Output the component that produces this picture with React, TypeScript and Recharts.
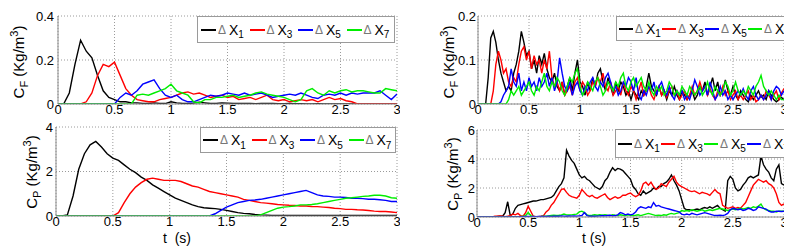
import React from "react";
import { LineChart, Line, XAxis, YAxis, CartesianGrid } from "recharts";

// sample times: left column every 0.05 s, right column every 0.025 s
const STEP_LEFT = 0.05;
const STEP_RIGHT = 0.025;
const T_TICKS = [0, 0.5, 1, 1.5, 2, 2.5, 3];

// ---- left column, C_F ----
const cfLeftX1 = [0, 0, 0.05, 0.18, 0.29, 0.24, 0.21, 0.13, 0.06, 0.03, 0.02, 0.01, 0.01, 0.005, 0.005, 0.003, 0.002, 0.005, 0.003, 0.002, 0.01, 0.005, 0.003, 0.002, 0.004, 0.008, 0.005, 0.002, 0.003, 0.005, 0.004, 0.003, 0.002, 0.003, 0.002, 0.001, 0.002, 0.003, 0.002, 0.001, 0.001, 0.002, 0.001, 0.001, 0, 0, 0.001, 0, 0, 0, 0, 0, 0, 0, 0, 0, 0, 0, 0, 0, 0];
const cfLeftX3 = [0, 0, 0, 0, 0, 0.01, 0.05, 0.13, 0.18, 0.17, 0.19, 0.13, 0.07, 0.04, 0.02, 0.015, 0.01, 0.01, 0.02, 0.025, 0.03, 0.04, 0.05, 0.055, 0.045, 0.05, 0.04, 0.03, 0.035, 0.04, 0.03, 0.035, 0.02, 0.025, 0.03, 0.02, 0.03, 0.04, 0.02, 0.015, 0.02, 0.01, 0.015, 0.02, 0.015, 0.02, 0.01, 0.02, 0.03, 0.02, 0.025, 0.015, 0.01, 0, 0, 0, 0, 0, 0, 0, 0];
const cfLeftX5 = [0, 0, 0, 0, 0, 0, 0, 0, 0, 0, 0, 0.03, 0.05, 0.04, 0.06, 0.09, 0.1, 0.11, 0.07, 0.04, 0.03, 0.04, 0.02, 0.01, 0.01, 0.02, 0.03, 0.04, 0.035, 0.04, 0.05, 0.045, 0.04, 0.05, 0.04, 0.045, 0.05, 0.04, 0.03, 0.035, 0.04, 0.045, 0.04, 0.05, 0.04, 0.03, 0.025, 0.04, 0.045, 0.04, 0.05, 0.04, 0.05, 0.045, 0.05, 0.05, 0.05, 0.06, 0.04, 0.02, 0.045];
const cfLeftX7 = [0, 0, 0, 0, 0, 0, 0, 0, 0, 0, 0, 0, 0, 0, 0.04, 0.045, 0.04, 0.05, 0.06, 0.07, 0.09, 0.06, 0.05, 0.04, 0.01, 0.005, 0.02, 0.02, 0.03, 0.03, 0.035, 0.04, 0.03, 0.035, 0.04, 0.05, 0.055, 0.045, 0.04, 0.035, 0.03, 0.02, 0.01, 0.02, 0.06, 0.07, 0.05, 0.04, 0.06, 0.05, 0.06, 0.065, 0.055, 0.06, 0.06, 0.055, 0.05, 0.05, 0.07, 0.065, 0.06];

// ---- left column, C_P ----
const cpLeftX1 = [0, 0, 0.05, 0.9, 2.1, 2.8, 3.2, 3.35, 3.1, 2.8, 2.6, 2.5, 2.3, 2.1, 1.95, 1.75, 1.6, 1.4, 1.25, 1.1, 0.95, 0.8, 0.7, 0.6, 0.5, 0.42, 0.37, 0.35, 0.33, 0.3, 0.25, 0.2, 0.15, 0.12, 0.1, 0.07, 0.05, 0.04, 0.03, 0.03, 0.02, 0.02, 0.02, 0.02, 0.02, 0.02, 0.02, 0.02, 0.02, 0.02, 0.02, 0.02, 0.02, 0.02, 0.02, 0.02, 0.02, 0.02, 0.02, 0.02, 0.02];
const cpLeftX3 = [0, 0, 0, 0, 0, 0, 0, 0, 0, 0, 0, 0.15, 0.6, 1.0, 1.3, 1.5, 1.65, 1.7, 1.65, 1.6, 1.6, 1.6, 1.55, 1.45, 1.35, 1.3, 1.2, 1.1, 1.05, 1.0, 0.95, 0.9, 0.85, 0.75, 0.7, 0.65, 0.6, 0.58, 0.55, 0.52, 0.5, 0.48, 0.47, 0.45, 0.45, 0.43, 0.42, 0.4, 0.38, 0.35, 0.33, 0.3, 0.3, 0.28, 0.27, 0.25, 0.22, 0.2, 0.2, 0.18, 0.15];
const cpLeftX5 = [0, 0, 0, 0, 0, 0, 0, 0, 0, 0, 0, 0, 0, 0, 0, 0, 0, 0, 0, 0, 0, 0, 0, 0, 0, 0, 0, 0, 0.1, 0.25, 0.4, 0.5, 0.6, 0.65, 0.7, 0.72, 0.75, 0.8, 0.85, 0.9, 0.95, 1.0, 1.05, 1.1, 1.15, 1.05, 0.95, 0.9, 0.88, 0.85, 0.85, 0.83, 0.8, 0.8, 0.78, 0.75, 0.75, 0.73, 0.7, 0.65, 0.65];
const cpLeftX7 = [0, 0, 0, 0, 0, 0, 0, 0, 0, 0, 0, 0, 0, 0, 0, 0, 0, 0, 0, 0, 0, 0, 0, 0, 0, 0, 0, 0, 0, 0, 0, 0, 0, 0, 0, 0, 0.05, 0.15, 0.25, 0.35, 0.4, 0.42, 0.45, 0.5, 0.5, 0.52, 0.55, 0.6, 0.65, 0.7, 0.75, 0.8, 0.82, 0.85, 0.88, 0.9, 0.93, 0.93, 0.9, 0.82, 0.8];

// ---- right column, C_F ----
const cfRightX1 = [0, 0, 0, 0, 0.06, 0.15, 0.165, 0.14, 0.1, 0.07, 0.05, 0.03, 0.04, 0.03, 0.07, 0.09, 0.12, 0.165, 0.14, 0.11, 0.12, 0.08, 0.1, 0.07, 0.11, 0.09, 0.115, 0.08, 0.06, 0.05, 0.07, 0.04, 0.03, 0.05, 0.02, 0.04, 0.06, 0.03, 0.07, 0.1, 0.05, 0.04, 0.02, 0.05, 0.03, 0.06, 0.04, 0.07, 0.08, 0.05, 0.03, 0.06, 0.04, 0.02, 0.05, 0.03, 0.05, 0.04, 0.02, 0.03, 0.01, 0.03, 0.02, 0.01, 0.03, 0.02, 0.04, 0.07, 0.04, 0.03, 0.02, 0.04, 0.02, 0.03, 0.01, 0.03, 0.02, 0.04, 0.02, 0.01, 0.03, 0.02, 0.01, 0.02, 0.03, 0.01, 0.02, 0.04, 0.03, 0.05, 0.02, 0.04, 0.06, 0.03, 0.05, 0.02, 0.03, 0.055, 0.03, 0.02, 0.04, 0.02, 0.01, 0.03, 0.02, 0.01, 0.005, 0.02, 0.01, 0.02, 0.03, 0.015, 0.02, 0.01, 0.03, 0.02, 0.01, 0.005, 0.01, 0.015, 0.01];
const cfRightX3 = [0, 0, 0, 0, 0, 0, 0.03, 0.09, 0.12, 0.1, 0.07, 0.08, 0.05, 0.04, 0.06, 0.05, 0.09, 0.12, 0.13, 0.1, 0.12, 0.08, 0.11, 0.09, 0.1, 0.07, 0.1, 0.08, 0.12, 0.06, 0.04, 0.05, 0.03, 0.05, 0.02, 0.03, 0.04, 0.02, 0.05, 0.06, 0.03, 0.05, 0.04, 0.02, 0.03, 0.05, 0.04, 0.06, 0.05, 0.07, 0.04, 0.03, 0.05, 0.02, 0.03, 0.04, 0.02, 0.05, 0.03, 0.02, 0.04, 0.03, 0.01, 0.03, 0.05, 0.02, 0.03, 0.04, 0.02, 0.01, 0.03, 0.04, 0.02, 0.03, 0.015, 0.03, 0.04, 0.02, 0.03, 0.01, 0.02, 0.03, 0.01, 0.02, 0.04, 0.02, 0.03, 0.05, 0.03, 0.04, 0.02, 0.035, 0.02, 0.01, 0.03, 0.02, 0.04, 0.02, 0.03, 0.01, 0.02, 0.03, 0.01, 0.02, 0.01, 0.02, 0.03, 0.01, 0.02, 0.005, 0.01, 0.02, 0.01, 0.03, 0.02, 0.01, 0.02, 0.03, 0.01, 0.025, 0.035];
const cfRightX5 = [0, 0, 0, 0, 0, 0, 0, 0, 0, 0.005, 0.02, 0.03, 0.04, 0.08, 0.05, 0.04, 0.07, 0.03, 0.05, 0.03, 0.06, 0.04, 0.05, 0.03, 0.06, 0.04, 0.05, 0.07, 0.04, 0.06, 0.03, 0.05, 0.105, 0.07, 0.04, 0.03, 0.05, 0.02, 0.04, 0.05, 0.03, 0.02, 0.04, 0.03, 0.05, 0.06, 0.04, 0.03, 0.05, 0.04, 0.06, 0.07, 0.05, 0.03, 0.04, 0.02, 0.03, 0.05, 0.04, 0.06, 0.05, 0.03, 0.06, 0.02, 0.01, 0.03, 0.02, 0.04, 0.03, 0.05, 0.02, 0.04, 0.05, 0.03, 0.02, 0.04, 0.02, 0.01, 0.03, 0.02, 0.03, 0.01, 0.02, 0.01, 0.03, 0.055, 0.04, 0.02, 0.03, 0.04, 0.02, 0.05, 0.03, 0.01, 0.02, 0.04, 0.02, 0.03, 0.01, 0.02, 0.01, 0.02, 0.03, 0.02, 0.035, 0.02, 0.01, 0.03, 0.04, 0.02, 0.01, 0.02, 0.01, 0.02, 0.03, 0.01, 0.03, 0.04, 0.035, 0.02, 0.03];
const cfRightX7 = [0, 0, 0, 0, 0, 0, 0, 0, 0, 0, 0, 0, 0.01, 0.03, 0.02, 0.03, 0.04, 0.02, 0.03, 0.04, 0.05, 0.03, 0.02, 0.04, 0.03, 0.05, 0.07, 0.04, 0.03, 0.05, 0.04, 0.06, 0.05, 0.03, 0.02, 0.04, 0.06, 0.05, 0.07, 0.08, 0.04, 0.02, 0.03, 0.05, 0.04, 0.03, 0.05, 0.06, 0.04, 0.02, 0.03, 0.05, 0.04, 0.03, 0.05, 0.04, 0.06, 0.07, 0.04, 0.03, 0.05, 0.06, 0.04, 0.05, 0.06, 0.04, 0.03, 0.05, 0.03, 0.02, 0.04, 0.03, 0.04, 0.02, 0.03, 0.05, 0.04, 0.02, 0.03, 0.02, 0.04, 0.03, 0.02, 0.04, 0.03, 0.02, 0.03, 0.04, 0.02, 0.03, 0.05, 0.03, 0.02, 0.04, 0.03, 0.02, 0.03, 0.05, 0.04, 0.02, 0.03, 0.05, 0.03, 0.02, 0.03, 0.02, 0.04, 0.03, 0.02, 0.04, 0.05, 0.065, 0.04, 0.03, 0.02, 0.03, 0.02, 0.01, 0.02, 0.01, 0.01];

// ---- right column, C_P (here X5 is green and X7 is blue) ----
const cpRightX1 = [0, 0, 0, 0, 0, 0, 0, 0, 0.03, 0.05, 0.05, 0.3, 1.05, 0.1, 0.2, 0.6, 0.8, 0.85, 0.9, 0.95, 1.0, 1.05, 1.1, 1.1, 1.15, 1.2, 1.2, 1.25, 1.3, 1.35, 1.5, 1.8, 2.1, 2.3, 2.7, 4.6, 4.2, 3.9, 3.7, 3.3, 2.9, 2.7, 2.8, 2.6, 2.5, 2.3, 2.1, 2.0, 1.9, 2.1, 2.5, 2.7, 3.1, 3.4, 3.2, 3.35, 3.3, 3.2, 3.0, 2.8, 2.6, 2.1, 1.9, 1.6, 1.5, 1.8, 1.6, 1.7, 1.8, 2.0, 1.9, 2.1, 2.1, 2.3, 2.4, 2.6, 2.9, 2.5, 2.2, 1.8, 1.2, 0.6, 0.5, 0.5, 0.45, 0.5, 0.55, 0.5, 0.6, 0.65, 0.6, 0.7, 0.6, 0.7, 0.8, 0.6, 0.5, 0.4, 2.5, 2.8, 2.6, 2.0, 1.8, 1.9, 2.2, 2.4, 2.7, 2.8, 2.7, 2.8, 2.9, 4.2, 3.6, 3.3, 3.1, 2.7, 2.5, 3.3, 3.6, 2.3, 2.2];
const cpRightX3 = [0, 0, 0, 0, 0, 0, 0, 0.05, 0.05, 0.08, 0.05, 0.02, 0.05, 0.1, 0.2, 0.15, 0.25, 0.1, 0.05, 0.3, 0.75, 0.4, 0.05, 0.02, 0.02, 0.05, 0.1, 0.35, 0.5, 0.8, 1.0, 1.3, 1.6, 1.9, 1.95, 1.7, 1.5, 1.4, 1.35, 1.3, 1.5, 1.9, 1.7, 1.5, 1.4, 1.5, 1.35, 1.3, 1.4, 1.5, 1.6, 1.35, 1.2, 1.3, 1.4, 1.3, 1.35, 1.5, 1.5, 1.6, 1.65, 1.5, 1.4, 1.5, 1.8, 2.3, 2.4, 2.2, 2.4, 2.1, 1.9, 2.0, 2.3, 2.2, 2.1, 2.4, 2.6, 2.8, 2.4, 2.2, 2.1, 2.0, 1.9, 1.8, 1.75, 1.8, 1.7, 1.6, 1.7, 1.65, 1.6, 1.5, 1.7, 1.9, 1.7, 1.6, 0.8, 0.7, 0.6, 0.65, 0.7, 0.6, 0.65, 0.6, 0.8, 1.0, 1.4, 1.8, 2.2, 2.4, 2.6, 2.5, 2.4, 2.5, 2.3, 2.2, 2.0, 1.6, 1.0, 0.8, 0.9];
const cpRightX5 = [0, 0, 0, 0, 0, 0, 0, 0, 0, 0, 0, 0, 0.01, 0.01, 0.02, 0.02, 0.02, 0.03, 0.05, 0.1, 0.3, 0.1, 0.03, 0.02, 0.02, 0.03, 0.05, 0.05, 0.08, 0.1, 0.12, 0.1, 0.12, 0.15, 0.2, 0.15, 0.15, 0.15, 0.18, 0.2, 0.35, 0.4, 0.3, 0.15, 0.1, 0.12, 0.15, 0.12, 0.15, 0.13, 0.15, 0.12, 0.1, 0.15, 0.12, 0.1, 0.15, 0.12, 0.1, 0.15, 0.12, 0.1, 0.12, 0.15, 0.1, 0.15, 0.2, 0.25, 0.2, 0.15, 0.1, 0.12, 0.1, 0.15, 0.12, 0.2, 0.25, 0.2, 0.25, 0.3, 0.45, 0.4, 0.45, 0.4, 0.5, 0.45, 0.4, 0.45, 0.5, 0.4, 0.45, 0.5, 0.45, 0.5, 0.55, 0.6, 0.55, 0.5, 0.45, 0.5, 0.55, 0.5, 0.55, 0.6, 0.55, 0.6, 0.65, 0.6, 0.7, 0.65, 0.75, 0.9, 0.6, 0.5, 0.45, 0.4, 0.4, 0.35, 0.4, 0.4, 0.4];
const cpRightX7 = [0, 0, 0, 0, 0, 0, 0, 0, 0, 0, 0, 0, 0, 0, 0, 0, 0, 0.02, 0.02, 0.03, 0.03, 0.02, 0.03, 0.02, 0.03, 0.03, 0.04, 0.03, 0.05, 0.04, 0.05, 0.06, 0.05, 0.08, 0.06, 0.05, 0.07, 0.06, 0.08, 0.06, 0.08, 0.1, 0.3, 0.1, 0.05, 0.06, 0.05, 0.06, 0.08, 0.1, 0.08, 0.1, 0.12, 0.08, 0.1, 0.15, 0.3, 0.25, 0.15, 0.2, 0.15, 0.2, 0.35, 0.6, 0.7, 0.65, 0.6, 0.7, 0.65, 1.0, 0.75, 0.8, 0.7, 0.65, 0.6, 0.55, 0.5, 0.45, 0.4, 0.35, 0.2, 0.15, 0.2, 0.15, 0.25, 0.2, 0.15, 0.2, 0.25, 0.3, 0.25, 0.2, 0.15, 0.1, 0.1, 0.12, 0.1, 0.15, 0.25, 0.5, 0.6, 0.55, 0.5, 0.55, 0.45, 0.5, 0.6, 0.55, 0.45, 0.5, 0.7, 0.65, 0.6, 0.55, 0.4, 0.35, 0.35, 0.4, 0.4, 0.38, 0.4];

const BLACK = "#000000";
const RED = "#ff0000";
const BLUE = "#0000ff";
const GREEN = "#00ee00";
const AXIS = "#8c8c8c";
const FONT = "'Liberation Sans', Arial, sans-serif";

type Item = { sub: string; color: string };

const legendLeft: Item[] = [
  { sub: "1", color: BLACK },
  { sub: "3", color: RED },
  { sub: "5", color: BLUE },
  { sub: "7", color: GREEN },
];
const legendRightCp: Item[] = [
  { sub: "1", color: BLACK },
  { sub: "3", color: RED },
  { sub: "5", color: GREEN },
  { sub: "7", color: BLUE },
];

function buildRows(step: number, series: number[][]) {
  return series[0].map((_, i) => {
    const row: Record<string, number> = { t: Math.round(i * step * 1000) / 1000 };
    series.forEach((s, k) => {
      row["s" + k] = s[i];
    });
    return row;
  });
}

type PanelProps = {
  left: number;
  top: number;
  width: number;
  height: number;
  mt: number;
  mr: number;
  yw: number;
  xh: number;
  yMax: number;
  yTicks: number[];
  yTickGap: number;
  rows: Record<string, number>[];
  colors: string[];
};

function Panel(p: PanelProps) {
  return (
    <div style={{ position: "absolute", left: p.left, top: p.top }}>
      <LineChart width={p.width} height={p.height} data={p.rows} margin={{ top: p.mt, right: p.mr, bottom: 0, left: 0 }}>
        <CartesianGrid stroke="#9a9a9a" strokeDasharray="1 2" />
        <XAxis
          dataKey="t"
          type="number"
          domain={[0, 3]}
          ticks={T_TICKS}
          interval={0}
          height={p.xh}
          tickSize={0}
          tickMargin={1}
          tickLine={false}
          axisLine={{ stroke: AXIS }}
          tick={{ fill: "#000", fontSize: 13, fontFamily: FONT }}
          allowDataOverflow
        />
        <XAxis xAxisId="top" orientation="top" dataKey="t" type="number" domain={[0, 3]} height={0} tick={false} tickLine={false} axisLine={{ stroke: AXIS }} />
        <YAxis
          type="number"
          domain={[0, p.yMax]}
          ticks={p.yTicks}
          interval={0}
          width={p.yw}
          tickSize={0}
          tickMargin={p.yTickGap}
          tickLine={false}
          axisLine={{ stroke: AXIS }}
          tick={{ fill: "#000", fontSize: 13, fontFamily: FONT }}
          allowDataOverflow
        />
        <YAxis yAxisId="right" orientation="right" type="number" domain={[0, p.yMax]} width={0} tick={false} tickLine={false} axisLine={{ stroke: AXIS }} />
        {p.colors.map((c, k) => (
          <Line key={k} dataKey={"s" + k} stroke={c} strokeWidth={1.4} dot={false} type="linear" isAnimationActive={false} />
        ))}
      </LineChart>
    </div>
  );
}

function LegendBox(props: { left: number; top: number; width: number; height: number; pad: number; pitch: number; lineW: number; items: Item[] }) {
  return (
    <div
      style={{
        position: "absolute",
        left: props.left,
        top: props.top,
        width: props.width,
        height: props.height,
        boxSizing: "border-box",
        border: "1px solid #9a9a9a",
        background: "#fff",
        display: "flex",
        alignItems: "center",
        paddingLeft: props.pad,
        fontFamily: FONT,
        fontSize: 14,
        whiteSpace: "nowrap",
      }}
    >
      {props.items.map((it) => (
        <div key={it.sub} style={{ width: props.pitch, flex: "none", display: "flex", alignItems: "center" }}>
          <span style={{ display: "inline-block", width: props.lineW, height: 2, background: it.color }} />
          <span style={{ color: "#777", fontSize: 12, marginLeft: 2, marginRight: 3 }}>Δ</span>
          <span>X</span>
          <span style={{ fontSize: 10, position: "relative", top: 5 }}>{it.sub}</span>
        </div>
      ))}
    </div>
  );
}

function YLabel(props: { cx: number; cy: number; sub: string }) {
  return (
    <div
      style={{
        position: "absolute",
        left: props.cx,
        top: props.cy,
        transform: "translate(-50%, -50%) rotate(-90deg)",
        fontFamily: FONT,
        fontSize: 15,
        lineHeight: 1,
        whiteSpace: "nowrap",
      }}
    >
      C<span style={{ fontSize: 11, position: "relative", top: 4 }}>{props.sub}</span> (Kg/m
      <span style={{ fontSize: 11, position: "relative", top: -6 }}>3</span>)
    </div>
  );
}

function XLabel(props: { left: number; top: number; text: string }) {
  return (
    <div style={{ position: "absolute", left: props.left, top: props.top, fontFamily: FONT, fontSize: 14, whiteSpace: "pre", lineHeight: 1 }}>
      {props.text}
    </div>
  );
}

export default function App() {
  const leftColors = [BLACK, RED, BLUE, GREEN];
  const rightCpColors = [BLACK, RED, GREEN, BLUE];
  const cfLeftRows = buildRows(STEP_LEFT, [cfLeftX1, cfLeftX3, cfLeftX5, cfLeftX7]);
  const cpLeftRows = buildRows(STEP_LEFT, [cpLeftX1, cpLeftX3, cpLeftX5, cpLeftX7]);
  const cfRightRows = buildRows(STEP_RIGHT, [cfRightX1, cfRightX3, cfRightX5, cfRightX7]);
  const cpRightRows = buildRows(STEP_RIGHT, [cpRightX1, cpRightX3, cpRightX5, cpRightX7]);

  return (
    <div style={{ position: "absolute", left: 0, top: 0, width: 794, height: 252, background: "#fff", overflow: "hidden" }}>
      {/* left column */}
      <Panel left={0} top={0} width={400} height={120} mt={16} mr={3} yw={58} xh={16} yMax={0.4} yTicks={[0, 0.2, 0.4]} yTickGap={4} rows={cfLeftRows} colors={leftColors} />
      <Panel left={0} top={120} width={400} height={132} mt={7} mr={3} yw={56} xh={36} yMax={4} yTicks={[0, 2, 4]} yTickGap={3} rows={cpLeftRows} colors={leftColors} />
      <LegendBox left={197} top={16} width={198} height={27} pad={3} pitch={48.5} lineW={15} items={legendLeft} />
      <LegendBox left={200} top={127} width={196} height={26} pad={2} pitch={48.5} lineW={15} items={legendLeft} />
      <YLabel cx={18} cy={62} sub="F" />
      <YLabel cx={31} cy={172} sub="P" />
      <XLabel left={163} top={231} text={"t  (s)"} />

      {/* right column, cut at the right edge like the source figure */}
      <div style={{ position: "absolute", left: 400, top: 0, width: 384, height: 252, overflow: "hidden" }}>
        <Panel left={0} top={0} width={400} height={120} mt={16} mr={16} yw={78} xh={16} yMax={0.2} yTicks={[0, 0.1, 0.2]} yTickGap={2} rows={cfRightRows} colors={leftColors} />
        <Panel left={0} top={120} width={400} height={132} mt={10} mr={16} yw={77} xh={35} yMax={6} yTicks={[0, 2, 4, 6]} yTickGap={2} rows={cpRightRows} colors={rightCpColors} />
        <LegendBox left={216} top={16} width={200} height={25} pad={2} pitch={43} lineW={14} items={legendLeft} />
        <LegendBox left={215} top={129} width={200} height={29} pad={2} pitch={43} lineW={14} items={legendRightCp} />
        <YLabel cx={48} cy={62} sub="F" />
        <YLabel cx={52} cy={174} sub="P" />
        <XLabel left={182} top={231} text={"t (s)"} />
      </div>
    </div>
  );
}
